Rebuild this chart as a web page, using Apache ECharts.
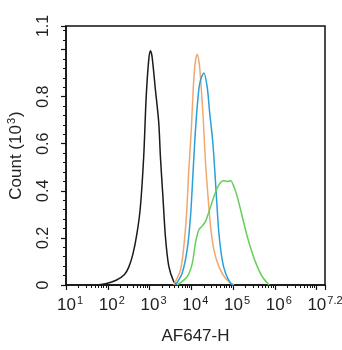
<!DOCTYPE html>
<html>
<head>
<meta charset="utf-8">
<script src="https://cdn.jsdelivr.net/npm/echarts@6/dist/echarts.min.js"></script>
<style>
  html, body { margin: 0; padding: 0; background: #fff; }
  #chart { width: 342px; height: 350px; }
</style>
</head>
<body>
<div id="chart"></div>
<script>
// x values are log10 of AF647-H intensity, y is count in thousands
const blackCurve = [[1.75,0],[1.95,0.005],[2.2,0.02],[2.4,0.045],[2.5,0.075],[2.6,0.13],[2.7,0.22],[2.78,0.33],[2.86,0.545],[2.92,0.8],[2.98,0.955],[3.02,0.995],[3.06,0.97],[3.14,0.83],[3.22,0.69],[3.26,0.545],[3.32,0.375],[3.38,0.205],[3.46,0.08],[3.58,0.014],[3.66,0]];
const orangeCurve = [[3.58,0],[3.74,0.064],[3.82,0.163],[3.885,0.3],[3.94,0.49],[4.0,0.66],[4.045,0.83],[4.09,0.94],[4.14,0.98],[4.19,0.94],[4.24,0.83],[4.29,0.69],[4.34,0.52],[4.4,0.375],[4.46,0.25],[4.54,0.15],[4.66,0.078],[4.82,0.028],[5.02,0]];
const blueCurve = [[3.62,0],[3.78,0.05],[3.9,0.15],[3.98,0.29],[4.045,0.49],[4.1,0.66],[4.17,0.815],[4.22,0.87],[4.3,0.9],[4.38,0.84],[4.44,0.73],[4.51,0.615],[4.56,0.49],[4.61,0.35],[4.66,0.22],[4.74,0.106],[4.82,0.05],[4.94,0.007],[5.0,0]];
const greenCurve = [[3.66,0],[3.9,0.035],[4.02,0.09],[4.1,0.18],[4.18,0.235],[4.26,0.25],[4.34,0.27],[4.42,0.31],[4.54,0.375],[4.66,0.425],[4.77,0.443],[4.86,0.44],[4.94,0.443],[5.02,0.417],[5.1,0.375],[5.22,0.29],[5.34,0.205],[5.46,0.135],[5.58,0.078],[5.7,0.035],[5.86,0]];

const xMin = 1, xMax = 7.2;
const yHidden = [1];   // tick without label

// minor ticks of a log axis: 2..9 in each decade
const minorTicks = [];
for (let d = 1; d <= 7; d++) {
  for (let k = 2; k <= 9; k++) {
    const v = d + Math.log10(k);
    if (v < xMax) minorTicks.push(v);
  }
}

const chart = echarts.init(document.getElementById('chart'));
const font = 'Liberation Sans, Arial, sans-serif';

function line(name, data, color) {
  return {
    name: name, type: 'line', data: data, xAxisIndex: 0,
    showSymbol: false, smooth: 0.3,
    lineStyle: { color: color, width: 1.5 },
    itemStyle: { color: color }
  };
}

chart.setOption({
  animation: false,
  grid: {
    left: 66, right: 17, top: 26, bottom: 65, outerBoundsMode: 'none',
    show: true, borderColor: '#111', borderWidth: 1.5
  },
  xAxis: [{
    type: 'value', min: xMin, max: xMax, interval: 1,
    name: 'AF647-H', nameLocation: 'middle', nameGap: 43,
    nameTextStyle: { fontFamily: font, fontSize: 17, color: '#222' },
    axisLine: { lineStyle: { color: '#111', width: 1.5 } },
    axisTick: { length: 5, lineStyle: { color: '#111', width: 1.2 } },
    splitLine: { show: false },
    axisLabel: {
      margin: 10,
      formatter: function (v) {
        if (Math.abs(v - 7) < 1e-9) return '';
        const p = Math.abs(v - Math.round(v)) < 1e-9 ? String(Math.round(v)) : v.toFixed(1);
        return (p.length === 1 ? '{pad|}' : '') + '{b|10}{s|' + p + '}';
      },
      rich: {
        b: { fontFamily: font, fontSize: 17, color: '#222', lineHeight: 20 },
        s: { fontFamily: font, fontSize: 11, color: '#222', verticalAlign: 'top', lineHeight: 11, padding: [0, 0, 0, 1] },
        pad: { width: 8 }
      }
    }
  }, {
    type: 'value', min: xMin, max: xMax, position: 'bottom',
    axisLine: { show: false },
    axisTick: { show: true, length: 3, customValues: minorTicks, lineStyle: { color: '#111', width: 1 } },
    axisLabel: { show: false },
    splitLine: { show: false }
  }],
  yAxis: {
    type: 'value', min: 0, max: 1.1, interval: 0.2,
    name: '{n|Count (10}{s|3}{n|)}', nameLocation: 'middle', nameGap: 40,
    nameTextStyle: {
      fontFamily: font, fontSize: 17, color: '#222',
      rich: {
        n: { fontFamily: font, fontSize: 17, color: '#222', lineHeight: 20 },
        s: { fontFamily: font, fontSize: 11, color: '#222', verticalAlign: 'top', lineHeight: 11, padding: [0, 1, 0, 1] }
      }
    },
    axisLine: { show: true, lineStyle: { color: '#111', width: 1.5 } },
    axisTick: { show: true, length: 5, lineStyle: { color: '#111', width: 1.2 } },
    minorTick: { show: true, splitNumber: 5, length: 3, lineStyle: { color: '#111', width: 1 } },
    splitLine: { show: false },
    axisLabel: {
      rotate: 90, margin: 14, fontFamily: font, fontSize: 16, color: '#222',
      formatter: function (v) {
        for (const h of yHidden) if (Math.abs(v - h) < 1e-9) return '';
        return String(Math.round(v * 10) / 10);
      }
    }
  },
  series: [
    line('control', blackCurve, '#1a1a1a'),
    line('orange', orangeCurve, '#f0a870'),
    line('blue', blueCurve, '#2a9fd8'),
    line('green', greenCurve, '#66cf5a')
  ]
});
</script>
</body>
</html>
